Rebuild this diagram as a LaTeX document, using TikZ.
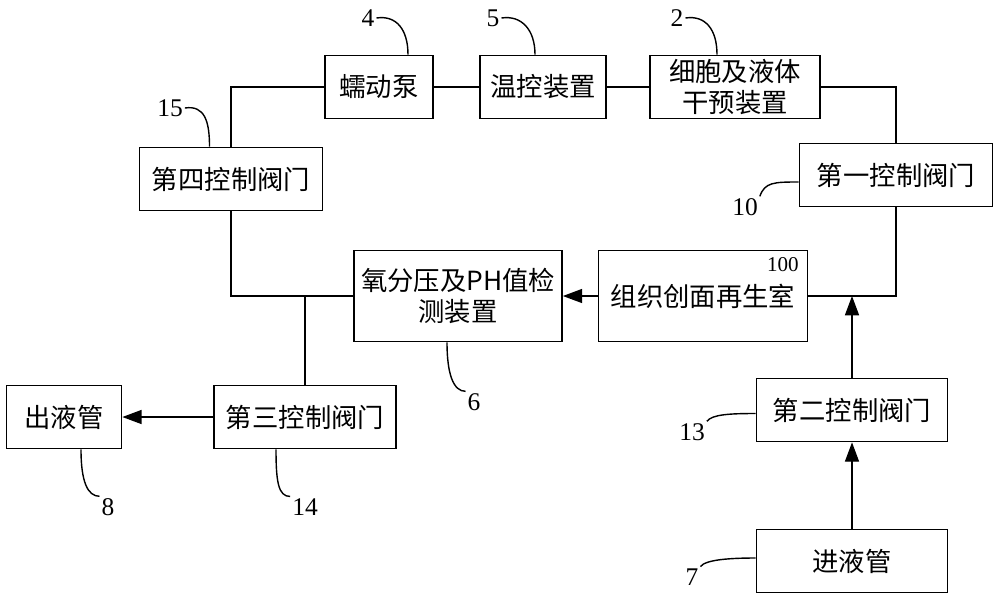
\documentclass[tikz,border=0pt]{standalone}
\usepackage{fontspec}
\setmainfont{Liberation Serif}
\newfontfamily\cjk{Noto Sans CJK SC}
\usetikzlibrary{arrows.meta}

\begin{document}
\begin{tikzpicture}[x=0.02cm, y=-0.02cm,
        box/.style={draw, rectangle, line width=1pt, minimum height=1.26cm, align=center, inner sep=2pt, font=\cjk\fontsize{15}{18}\selectfont},
        num/.style={inner sep=1pt, font=\fontsize{14.5}{16}\selectfont},
        pipe/.style={line width=0.8pt},
        flow/.style={line width=0.8pt, -{Triangle[length=11pt,width=8pt]}},
        lead/.style={line width=0.8pt}]
    \useasboundingbox (0,0) rectangle (1000,602);

    % Top row
    \node[box, minimum width=2.16cm] (pump) at (379,87) {蠕动泵};
    \node[box, minimum width=2.52cm] (temp) at (543,87) {温控装置};
    \node[box, minimum width=3.4cm] (cell) at (735,87) {细胞及液体\\干预装置};

    % Valves and chambers
    \node[box, minimum width=3.86cm] (valve1) at (896,175) {第一控制阀门};
    \node[box, minimum width=3.66cm] (valve4) at (231,179) {第四控制阀门};
    \node[box, minimum width=4.16cm, minimum height=1.82cm] (sensor) at (458,296) {氧分压及PH值检\\测装置};
    \node[box, minimum width=4.18cm, minimum height=1.82cm] (regen) at (703,296) {组织创面再生室};
    \node[anchor=north east, inner sep=1pt, font=\fontsize{12}{14}\selectfont] (n100) at ([xshift=-0.15cm,yshift=-0.12cm]regen.north east) {100};
    \node[box, minimum width=3.64cm] (valve3) at (305,417) {第三控制阀门};
    \node[box, minimum width=2.3cm] (outlet) at (64,417) {出液管};
    \node[box, minimum width=3.82cm] (valve2) at (852,410) {第二控制阀门};
    \node[box, minimum width=3.82cm] (inlet) at (852,561) {进液管};

    % Pipes
    \draw[pipe] (pump.west) -| (valve4.north);
    \draw[pipe] (pump.east) -- (temp.west);
    \draw[pipe] (temp.east) -- (cell.west);
    \draw[pipe] (cell.east) -| (valve1.north);
    \draw[pipe] (valve1.south) |- (regen.east);
    \draw[pipe] (valve4.south) |- (sensor.west);
    \draw[pipe] (valve3.north) -- (valve3.north |- sensor.west);
    \draw[flow] (regen.west) -- (sensor.east);
    \draw[flow] (valve3.west) -- (outlet.east);
    \draw[flow] (inlet.north) -- (valve2.south);
    \draw[flow] (valve2.north) -- (valve2.north |- regen.east);

    % Reference numbers
    \node[num] (n4) at (368,18) {4};
    \node[num] (n5) at (493,18) {5};
    \node[num] (n2) at (677,18) {2};
    \node[num] (n15) at (170,108) {15};
    \node[num] (n10) at (745,207) {10};
    \node[num] (n6) at (474,402) {6};
    \node[num] (n14) at (305,507) {14};
    \node[num] (n8) at (108,507) {8};
    \node[num] (n13) at (692,432) {13};
    \node[num] (n7) at (692,577) {7};

    \draw[lead] (n4.east) .. controls +(20,-3) and +(0,-25) .. ([xshift=0.58cm]pump.north);
    \draw[lead] (n5.east) .. controls +(20,-3) and +(0,-25) .. ([xshift=-0.16cm]temp.north);
    \draw[lead] (n2.east) .. controls +(20,-3) and +(0,-25) .. ([xshift=-0.36cm]cell.north);
    \draw[lead] (n15.east) .. controls +(20,-3) and +(0,-25) .. ([xshift=-0.43cm]valve4.north);
    \draw[lead] (n10.north east) .. controls +(5,-14) and +(-25,0) .. ([yshift=-0.14cm]valve1.west);
    \draw[lead] ([xshift=-0.22cm]sensor.south) .. controls +(0,32) and +(-12,0) .. (n6.north west);
    \draw[lead] ([xshift=-0.58cm]valve3.south) .. controls +(0,32) and +(-12,0) .. (n14.north west);
    \draw[lead] ([xshift=0.34cm]outlet.south) .. controls +(0,32) and +(-12,0) .. (n8.north west);
    \draw[lead] (n13.north east) .. controls +(5,-7) and +(-25,0) .. ([yshift=-0.07cm]valve2.west);
    \draw[lead] (n7.north east) .. controls +(5,-7) and +(-25,0) .. ([yshift=0.06cm]inlet.west);
\end{tikzpicture}
\end{document}
